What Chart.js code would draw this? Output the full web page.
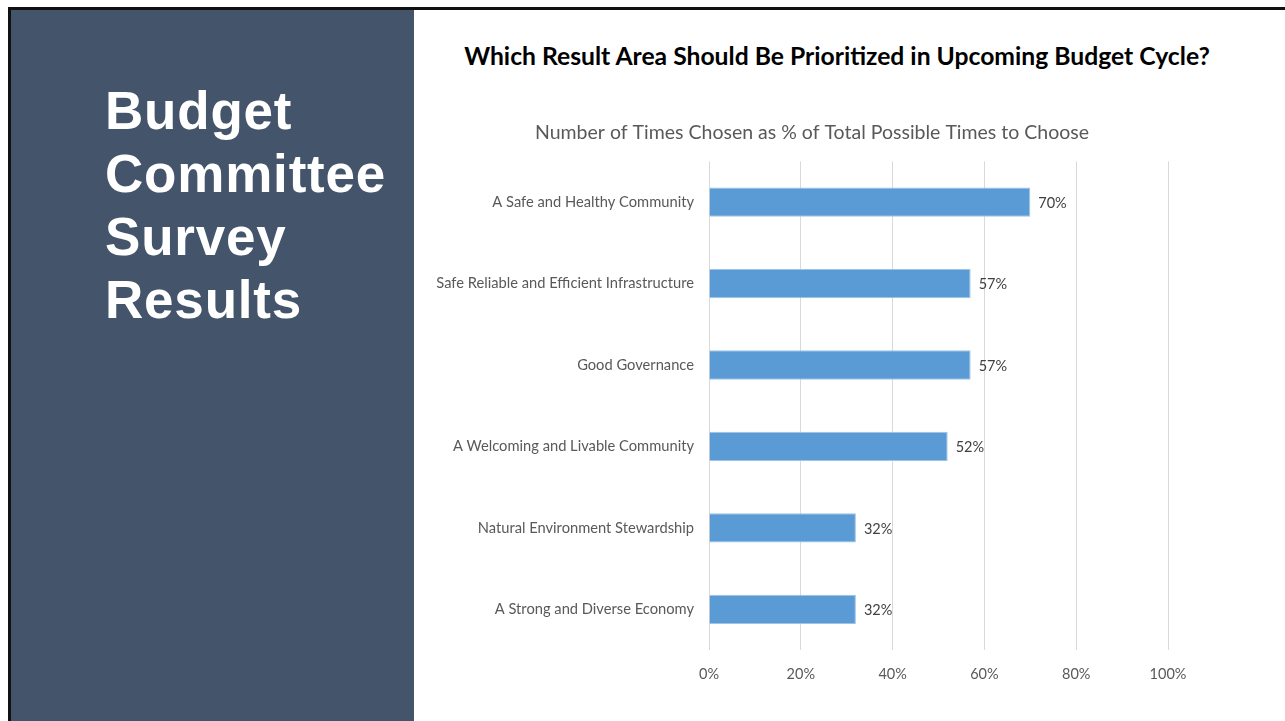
<!DOCTYPE html>
<html>
<head>
<meta charset="utf-8">
<script src="https://cdn.jsdelivr.net/npm/chart.js@4"></script>
<style>
  html, body { margin: 0; padding: 0; background: #fff; }
  body { width: 1285px; height: 721px; position: relative; overflow: hidden; }
  #frameTop { position: absolute; left: 8px; top: 7px; width: 1277px; height: 3px; background: #111; }
  #frameLeft { position: absolute; left: 8px; top: 7px; width: 3px; height: 714px; background: #111; }
  #sidePanel { position: absolute; left: 11px; top: 10px; width: 403px; height: 711px; background: #44546a; }
  #sideTitle {
    position: absolute; left: 105px; top: 79px; margin: 0;
    color: #fff; font-family: "Liberation Sans", Arial, sans-serif; font-weight: 700;
    font-size: 53px; line-height: 63px; letter-spacing: 0.8px;
  }
  #heading {
    position: absolute; left: 414px; top: 41px; width: 846px; margin: 0; text-align: center;
    font-family: Lato, "Open Sans", sans-serif; font-weight: 700; font-size: 24.7px; color: #000;
  }
  #chartBox { position: absolute; left: 414px; top: 110px; width: 796px; height: 611px; }
</style>
</head>
<body>
<div id="frameTop"></div>
<div id="frameLeft"></div>
<div id="sidePanel"></div>
<h1 id="sideTitle">Budget<br>Committee<br>Survey<br>Results</h1>
<h2 id="heading">Which Result Area Should Be Prioritized in Upcoming Budget Cycle?</h2>
<div id="chartBox"><canvas id="resultAreas"></canvas></div>
<script>
const areaLabels = [
    'A Safe and Healthy Community',
    'Safe Reliable and Efficient Infrastructure',
    'Good Governance',
    'A Welcoming and Livable Community',
    'Natural Environment Stewardship',
    'A Strong and Diverse Economy'
];
const percentChosen = [70, 57, 57, 52, 32, 32];
const percentTicks = [0, 20, 40, 60, 80, 100];

const labelFont = 'Lato, "Open Sans", sans-serif';

// draws "70%" etc. just past the end of each bar
const barValueLabels = {
    id: 'barValueLabels',
    afterDatasetsDraw(chart) {
        const ctx = chart.ctx;
        ctx.save();
        ctx.font = '14.5px ' + labelFont;
        ctx.fillStyle = '#404040';
        ctx.textAlign = 'left';
        ctx.textBaseline = 'middle';
        chart.getDatasetMeta(0).data.forEach((bar, i) => {
            ctx.fillText(percentChosen[i] + '%', bar.x + 8, bar.y + 1);
        });
        ctx.restore();
    }
};

const resultAreaCtx = document.getElementById('resultAreas').getContext('2d');
const resultAreaChart = new Chart(resultAreaCtx, {
    type: 'bar',
    data: {
        labels: areaLabels,
        datasets: [{
            data: percentChosen,
            backgroundColor: '#5b9bd5',
            borderColor: '#9dc3e6',
            borderWidth: 1,
            borderSkipped: 'start',
            categoryPercentage: 1,
            barPercentage: 0.36
        }]
    },
    options: {
        indexAxis: 'y',
        responsive: true,
        maintainAspectRatio: false,
        animation: false,
        layout: {
            padding: 0
        },
        plugins: {
            legend: { display: false },
            tooltip: { enabled: false },
            title: {
                display: true,
                text: 'Number of Times Chosen as % of Total Possible Times to Choose',
                color: '#595959',
                font: { family: labelFont, size: 19.5, weight: 'normal' },
                padding: { top: 11, bottom: 17 }
            }
        },
        scales: {
            x: {
                min: 0,
                max: 100,
                afterBuildTicks: (scale) => {
                    scale.ticks = percentTicks.map(v => ({ value: v }));
                },
                afterFit: (scale) => { scale.height = 71; },
                grid: { color: '#d9d9d9', lineWidth: 1, drawTicks: false },
                border: { display: false },
                ticks: {
                    padding: 16,
                    color: '#595959',
                    font: { family: labelFont, size: 14.5 },
                    callback: (v) => v + '%'
                }
            },
            y: {
                afterFit: (scale) => { scale.width = 295; },
                grid: { display: false, drawTicks: false },
                border: { display: false },
                ticks: {
                    padding: 15,
                    color: '#595959',
                    font: { family: labelFont, size: 14.7 }
                }
            },
            // empty right-hand axis, only reserves space so the plot ends short of the title's right edge
            yRightGap: {
                axis: 'y',
                type: 'category',
                position: 'right',
                afterFit: (scale) => { scale.width = 42; },
                grid: { display: false, drawTicks: false },
                border: { display: false },
                ticks: { display: false }
            }
        }
    },
    plugins: [barValueLabels]
});
</script>
</body>
</html>
